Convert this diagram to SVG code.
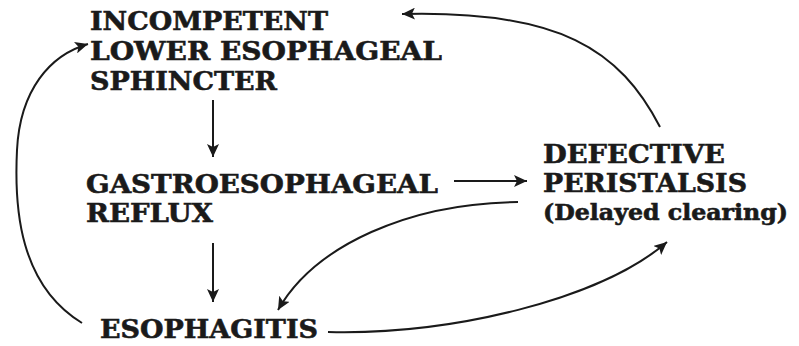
<svg xmlns="http://www.w3.org/2000/svg" width="799" height="346" viewBox="0 0 799 346">
<style>
  .t { font-family: "DejaVu Serif", "Liberation Serif", serif; font-weight: bold; font-size: 26px; fill: #1a1a1a; stroke: #1a1a1a; stroke-width: 0.6; }
  .s { font-size: 22px; }
  .c { fill: none; stroke: #1a1a1a; stroke-width: 2; }
</style>
<defs>
  <marker id="ah" markerUnits="userSpaceOnUse" markerWidth="14" markerHeight="12" refX="13" refY="6" orient="auto">
    <path d="M0,0 L13,6 L0,12 L3,6 Z" fill="#1a1a1a"/>
  </marker>
</defs>
<rect width="799" height="346" fill="#fff"/>
<g id="les">
  <text class="t" x="90" y="30" textLength="238" lengthAdjust="spacingAndGlyphs">INCOMPETENT</text>
  <text class="t" x="90" y="60" textLength="352" lengthAdjust="spacingAndGlyphs">LOWER ESOPHAGEAL</text>
  <text class="t" x="90" y="90" textLength="187" lengthAdjust="spacingAndGlyphs">SPHINCTER</text>
</g>
<g id="ger">
  <text class="t" x="86" y="193" textLength="352" lengthAdjust="spacingAndGlyphs">GASTROESOPHAGEAL</text>
  <text class="t" x="86" y="222" textLength="127" lengthAdjust="spacingAndGlyphs">REFLUX</text>
</g>
<g id="dp">
  <text class="t" x="543" y="163" textLength="182" lengthAdjust="spacingAndGlyphs">DEFECTIVE</text>
  <text class="t" x="543" y="192" textLength="204" lengthAdjust="spacingAndGlyphs">PERISTALSIS</text>
  <text class="t s" x="543" y="220" textLength="245" lengthAdjust="spacingAndGlyphs">(Delayed clearing)</text>
</g>
<g id="eso">
  <text class="t" x="100" y="338" textLength="218" lengthAdjust="spacingAndGlyphs">ESOPHAGITIS</text>
</g>
<g id="connectors">
  <path class="c" d="M213,100 L213,157" marker-end="url(#ah)"/>
  <path class="c" d="M213,243 L213,302" marker-end="url(#ah)"/>
  <path class="c" d="M454,181 L527,181" marker-end="url(#ah)"/>
  <path class="c" d="M518,202 C410,203 315,245 278,310" marker-end="url(#ah)"/>
  <path class="c" d="M328,332 C450,335 600,300 667,242" marker-end="url(#ah)"/>
  <path class="c" d="M82,323 C20,285 14,210 17,150 C20,90 50,55 88,44" marker-end="url(#ah)"/>
  <path class="c" d="M660,127 C620,50 560,10 402,14" marker-end="url(#ah)"/>
</g>
</svg>
